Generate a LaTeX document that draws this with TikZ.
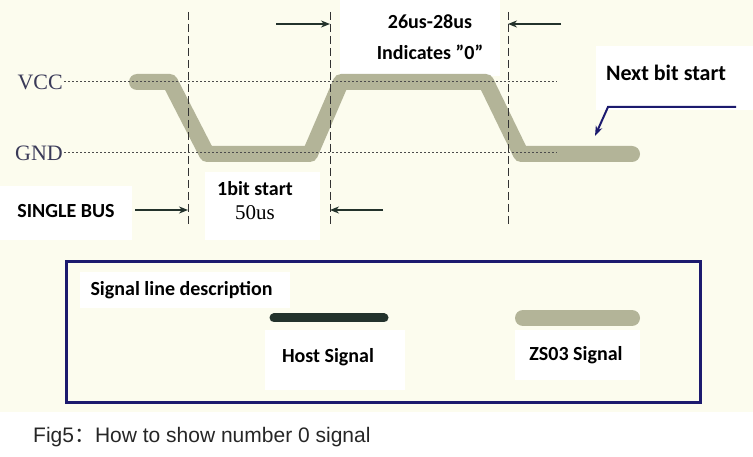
\documentclass[tikz,border=0pt]{standalone}
\usepackage{fontspec}
\setmainfont{Carlito}
\newfontfamily\serifb{Liberation Serif}
\newfontfamily\arialf{Liberation Sans}
\newfontfamily\cjkf{Noto Sans CJK SC}
\usetikzlibrary{arrows.meta}
\definecolor{cream}{HTML}{FCFCEE}
\definecolor{band}{HTML}{B3B498}
\definecolor{navy}{HTML}{1C1A6E}
\definecolor{arr}{HTML}{23322B}
\definecolor{lbl}{HTML}{3A3A58}
\tikzset{
 lab/.style={font=\fontsize{20}{22}\selectfont\bfseries, text=black},
 wbox/.style={fill=white, draw=none},
 dim/.style={line width=2.5pt, draw=arr, -{Stealth[length=9pt,width=7pt]}},
 vdash/.style={draw=black!80, dash pattern=on 8pt off 4pt, line width=0.8pt},
 vdot/.style={draw=black!70, dash pattern=on 2pt off 2pt, line width=1pt},
 sig/.style={draw=band, line width=16pt, line cap=round, line join=round},
 rail/.style={font=\serifb\fontsize{22}{24}\selectfont, text=lbl, inner sep=1pt}
}
\begin{document}
\begin{tikzpicture}[x=1pt,y=-1pt]
\useasboundingbox (0,0) rectangle (753,457);
\fill[cream] (0,0) rectangle (753,412);
% white label boxes
\fill[wbox] (340,0) rectangle (500,76);
\fill[wbox] (596,46) rectangle (753,110);
\fill[wbox] (205,172) rectangle (320,240);
\fill[wbox] (0,186) rectangle (132,240);
% signal band
\draw[sig] (137,82) -- (170,82) -- (207,154) -- (310,154) -- (341,82) -- (486,82) -- (521,154) -- (632,154);
% rails
\node[rail, anchor=east] (vcc) at (64,82) {VCC};
\node[rail, anchor=east] (gnd) at (64,153) {GND};
\coordinate (vccE) at (557,82);
\coordinate (gndE) at (557,153);
\draw[vdot] (vcc.east) -- (vccE);
\draw[vdot] (gnd.east) -- (gndE);
% vertical dashed
\foreach \x/\n in {188/a,330/b,508/c}{
 \coordinate (\n t) at (\x,12); \coordinate (\n b) at (\x,226);
 \draw[vdash] (\n t) -- (\n b);}
% dimension arrows
\coordinate (d1) at (276,24); \coordinate (d1e) at (330,24);
\coordinate (d2) at (561,24); \coordinate (d2e) at (508,24);
\coordinate (d3) at (135,210); \coordinate (d3e) at (188,210);
\coordinate (d4) at (383,210); \coordinate (d4e) at (330,210);
\draw[dim] (d1) -- (d1e);
\draw[dim] (d2) -- (d2e);
\draw[dim] (d3) -- (d3e);
\draw[dim] (d4) -- (d4e);
% labels
\node[lab] (t1) at (430,22) {26us-28us};
\node[lab] (t2) at (430,52) {Indicates \symbol{34}0\symbol{34}};
\node[lab, font=\fontsize{22}{24}\selectfont\bfseries] (nb) at (666,73) {Next bit start};
\node[lab] (bs) at (255,189) {1bit start};
\node[font=\serifb\fontsize{21}{23}\selectfont] (fu) at (255,213) {50us};
\node[lab] (sb) at (66,211) {SINGLE BUS};
% next bit arrow
\coordinate (n1) at (736,107); \coordinate (n2) at (608,107); \coordinate (n3) at (595,136);
\draw[navy, line width=2pt, -{Stealth[length=10pt,width=7pt]}] (n1) -- (n2) -- (n3);
% legend box
\draw[navy, line width=3pt] (66,262) rectangle (700,402);
\fill[wbox] (80,272) rectangle (290,308);
\fill[wbox] (265,330) rectangle (405,390);
\fill[wbox] (515,330) rectangle (640,380);
\node[lab, anchor=west] (sd) at (87,290) {Signal line description};
\coordinate (h1) at (274,318); \coordinate (h2) at (384,318);
\draw[arr, line width=9pt, line cap=round] (h1) -- (h2);
\coordinate (z1) at (523,318); \coordinate (z2) at (632,318);
\draw[sig] (z1) -- (z2);
\node[lab] (hs) at (328,357) {Host Signal};
\node[lab] (zs) at (576,355) {ZS03 Signal};
\node[anchor=west, font=\arialf\fontsize{21}{23}\selectfont, text=black!85, inner sep=0pt] (cap) at (33,437) {Fig5{\cjkf ：}How to show number 0 signal};
\end{tikzpicture}
\end{document}
